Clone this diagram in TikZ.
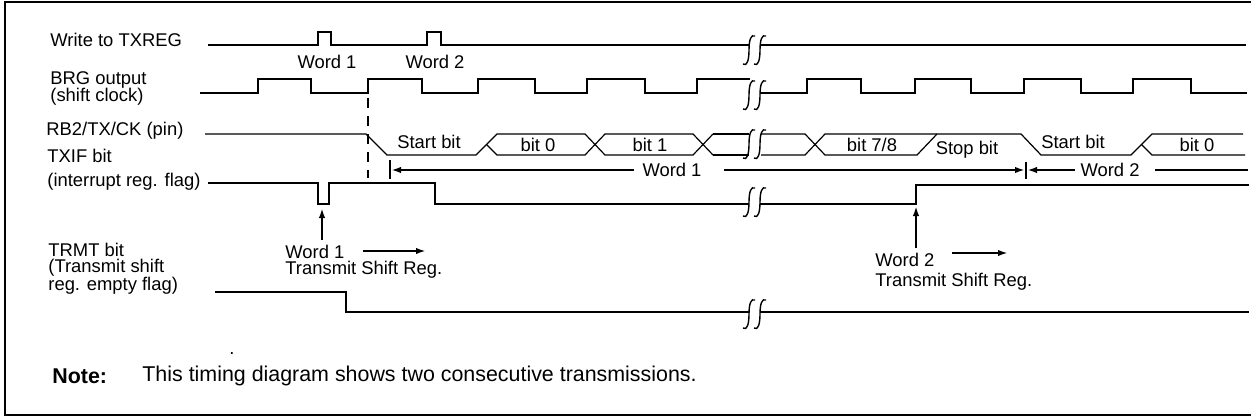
\documentclass[tikz,border=0pt]{standalone}
\usepackage{fontspec}
\setmainfont{Liberation Sans}
\usetikzlibrary{arrows.meta}
\tikzset{
    brk/.pic={
        % Two hooked strokes: time break in a trace
        \draw[line width=0.7pt] (-12,14) .. controls (-8,17) and (-6,10) .. (-6,0)
            .. controls (-6,-10) and (-4,-16) .. (0,-14);
        \draw[line width=0.7pt] (-1,14) .. controls (3,17) and (5,10) .. (5,0)
            .. controls (5,-10) and (7,-16) .. (11,-14);
    },
    sig/.style={line width=1pt},
    pin/.style={line width=0.6pt},
    lbl/.style={font=\fontsize{9.2}{11}\selectfont, inner sep=0pt, anchor=west},
    cell/.style={font=\fontsize{9.2}{11}\selectfont, inner sep=0pt},
}

\begin{document}
\begin{tikzpicture}[x=0.5pt, y=-0.5pt, >={Latex[length=5pt,width=3.2pt]}]
    \useasboundingbox (0,0) rectangle (1251,417);

    % Frame (right side runs off the page)
    \draw[line width=1pt] (1251,2) -- (5,2) -- (5,415) -- (1251,415);

    % ==========================================
    % Signal names
    % ==========================================
    \node[lbl] (nTxreg) at (50,40) {Write to TXREG};
    \node[lbl] (nBrg) at (50,80) {BRG output};
    \node[lbl] (nBrgb) at (50,97) {(shift clock)};
    \node[lbl] (nPin) at (46,131) {RB2/TX/CK (pin)};
    \node[lbl] (nTxif) at (47,156) {TXIF bit};
    \node[lbl] (nTxifb) at (47,182) {(interrupt reg. flag)};
    \node[lbl] (nTrmt) at (48,250) {TRMT bit};
    \node[lbl] (nTrmtb) at (48,268) {(Transmit shift};
    \node[lbl] (nTrmtc) at (48,286) {reg. empty flag)};

    % ==========================================
    % 1. Write to TXREG
    % ==========================================
    \draw[sig] (208,45) -- (318,45) -- (318,32) -- (331,32) -- (331,45)
        -- (427,45) -- (427,32) -- (441,32) -- (441,45) -- (749,45);
    \draw[sig] (760,45) -- (1246,45);
    \pic at (755,50) {brk};
    \node[cell] (wr1) at (327,62) {Word 1};
    \node[cell] (wr2) at (435,62) {Word 2};

    % ==========================================
    % 2. BRG output (shift clock)
    % ==========================================
    \draw[sig] (200,93) -- (258,93) -- (258,79) -- (311,79) -- (311,93)
        -- (368,93) -- (368,79) -- (422,79) -- (422,93) -- (478,93)
        -- (478,79) -- (535,79) -- (535,93) -- (587,93) -- (587,79)
        -- (645,79) -- (645,93) -- (697,93) -- (697,79) -- (750,79);
    \draw[sig] (760,93) -- (807,93) -- (807,79) -- (861,79) -- (861,93)
        -- (915,93) -- (915,79) -- (971,79) -- (971,93) -- (1024,93)
        -- (1024,79) -- (1081,79) -- (1081,93) -- (1133,93) -- (1133,79)
        -- (1191,79) -- (1191,93) -- (1247,93);
    \pic at (755,95) {brk};

    % Start of transmission
    \draw[sig, dash pattern=on 5pt off 4pt] (368,98) -- (368,178);

    % ==========================================
    % 3. RB2/TX/CK pin
    % ==========================================
    \draw[pin] (205,134) -- (366,134) -- (387,155) -- (476,155) -- (497,134)
        -- (585,134) -- (605,155) -- (693,155) -- (713,134);
    \draw[pin] (486.5,144.5) -- (497,155) -- (585,155) -- (605,134)
        -- (693,134) -- (713,155);
    \draw[sig] (713,134) -- (749,134);
    \draw[sig] (713,155) -- (749,155);
    \pic at (755,144) {brk};
    \draw[pin] (761,134) -- (805,134) -- (825,155) -- (917,155) -- (937,134);
    \draw[pin] (761,155) -- (805,155) -- (825,134) -- (1021,134) -- (1041,155)
        -- (1131,155) -- (1152,134) -- (1243,134);
    \draw[pin] (1141.5,144.5) -- (1152,155) -- (1245,155);

    \node[cell] (sb1) at (429,142) {Start bit};
    \node[cell] (b0) at (538,145) {bit 0};
    \node[cell] (b1) at (650,145) {bit 1};
    \node[cell] (b7) at (872,145) {bit 7/8};
    \node[cell] (stb) at (967,150) {Stop bit};
    \node[cell] (sb2) at (1073,142) {Start bit};
    \node[cell] (b0b) at (1197,145) {bit 0};

    % Word extents
    \coordinate (t1) at (390,170);
    \coordinate (t2) at (1026,170);
    \coordinate (tEnd) at (1248,170);
    \draw[sig] (390,160) -- (390,179);
    \draw[sig] (1026,162) -- (1026,179);
    \node[cell] (wd1) at (672,170) {Word 1};
    \node[cell] (wd2) at (1110,170) {Word 2};
    \draw[sig, <-] ([xshift=0.5pt]t1) -- ([xshift=-4pt]wd1.west);
    \draw[sig, ->] ([xshift=11pt]wd1.east) -- ([xshift=-0.5pt]t2);
    \draw[sig, <-] ([xshift=0.5pt]t2) -- ([xshift=-2.5pt]wd2.west);
    \draw[sig] ([xshift=7.5pt]wd2.east) -- (tEnd);

    % ==========================================
    % 4. TXIF bit
    % ==========================================
    \draw[sig] (208,183) -- (318,183) -- (318,204) -- (329,204) -- (329,183)
        -- (435,183) -- (435,204) -- (749,204);
    \draw[sig] (760,204) -- (916,204) -- (916,185) -- (1249,185);
    \pic at (755,202) {brk};

    % ==========================================
    % 5. TRMT bit
    % ==========================================
    \draw[sig] (215,292) -- (346,292) -- (346,312) -- (749,312);
    \draw[sig] (760,312) -- (1249,312);
    \pic at (755,314) {brk};

    % Load of the shift register
    \draw[sig, ->] (322,240) -- (322,208);
    \node[lbl] (ld1) at (285,252) {Word 1};
    \node[lbl] (ld1b) at (285,270) {Transmit Shift Reg.};
    \draw[sig, ->] (363,251) -- (426,251);

    \draw[sig, ->] (916,248) -- (916,206);
    \node[lbl] (ld2) at (875,260) {Word 2};
    \node[lbl] (ld2b) at (875,282) {Transmit Shift Reg.};
    \draw[sig, ->] (952,253) -- (1008,253);

    % ==========================================
    % Note
    % ==========================================
    \node[cell] (dot) at (232,354) {.};
    \node[lbl, font=\fontsize{10.7}{13}\selectfont\bfseries] (note) at (52,376) {Note:};
    \node[lbl, font=\fontsize{10.7}{13}\selectfont] (noteTxt) at (142,376) {This timing diagram shows two consecutive transmissions.};

\end{tikzpicture}
\end{document}
